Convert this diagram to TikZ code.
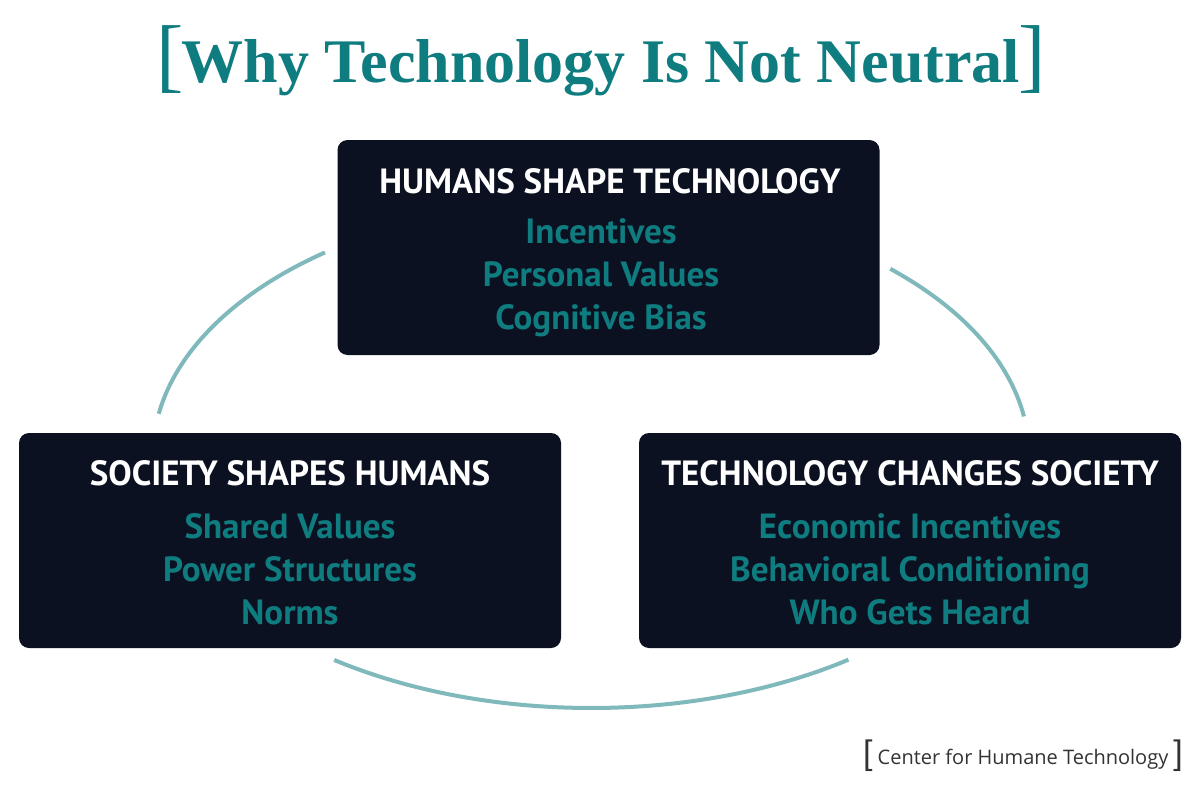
\documentclass[tikz,border=0pt]{standalone}
\usepackage{fontspec}
\setmainfont{PT Sans}
\newfontfamily\titlefont{Liberation Serif}
\newfontfamily\footfont{Open Sans}
\newfontfamily\brfont{Liberation Sans}
\definecolor{navy}{HTML}{0C1122}
\definecolor{tealtxt}{HTML}{0F7C80}
\definecolor{arccol}{HTML}{80B9BB}
\definecolor{footgray}{HTML}{333333}
\tikzset{
  box/.style={fill=navy, rounded corners=10pt, minimum width=542pt, minimum height=215pt, inner sep=0pt},
  hdr/.style={text=white, font=\fontsize{35}{35}\selectfont\bfseries, anchor=base, inner sep=0pt},
  item/.style={text=tealtxt, font=\fontsize{35}{35}\selectfont\bfseries, anchor=base, inner sep=0pt},
  arcline/.style={draw=arccol, line width=4pt}
}
\begin{document}
\begin{tikzpicture}[x=1pt,y=-1pt]
\useasboundingbox (0,0) rectangle (1200,800);
\fill[white] (0,0) rectangle (1200,800);
% arcs
\draw[arcline] (591,455) ++(232.6:438 and 255) arc[start angle=232.6, end angle=189.3, x radius=438, y radius=255];
\draw[arcline] (591,455) ++(313.1:438 and 255) arc[start angle=313.1, end angle=351.3, x radius=438, y radius=255];
\draw[arcline] (591,455) ++(125.9:438 and 253) arc[start angle=125.9, end angle=54, x radius=438, y radius=253];
% title
\node[anchor=base, text=tealtxt, inner sep=0pt] (title) at (601,82)
 {{\titlefont\fontsize{82}{82}\selectfont[}\kern-2pt{\titlefont\bfseries\fontsize{62}{62}\selectfont Why Technology Is Not Neutral}\kern-2pt{\titlefont\fontsize{82}{82}\selectfont]}};
% boxes
\node[box] (top) at (608.5,247.5) {};
\node[box] (left) at (290,540.5) {};
\node[box] (right) at (910,540.5) {};
% top text
\node[hdr] (th) at (610,193) {HUMANS SHAPE TECHNOLOGY};
\node[item] (t1) at (601,243) {Incentives};
\node[item] (t2) at (601,286) {Personal Values};
\node[item] (t3) at (601,329) {Cognitive Bias};
% left text
\node[hdr] (lh) at (290,485) {SOCIETY SHAPES HUMANS};
\node[item] (l1) at (290,538) {Shared Values};
\node[item] (l2) at (290,581) {Power Structures};
\node[item] (l3) at (290,624) {Norms};
% right text
\node[hdr] (rh) at (910,485) {TECHNOLOGY CHANGES SOCIETY};
\node[item] (r1) at (910,538) {Economic Incentives};
\node[item] (r2) at (910,581) {Behavioral Conditioning};
\node[item] (r3) at (910,624) {Who Gets Heard};
% footer
\node[anchor=base, text=footgray, inner sep=0pt] (foot) at (1023,764)
 {{\brfont\fontsize{34}{34}\selectfont[}\kern5pt{\footfont\fontsize{20}{20}\selectfont Center for Humane Technology}\kern5pt{\brfont\fontsize{34}{34}\selectfont]}};
\end{tikzpicture}
\end{document}
